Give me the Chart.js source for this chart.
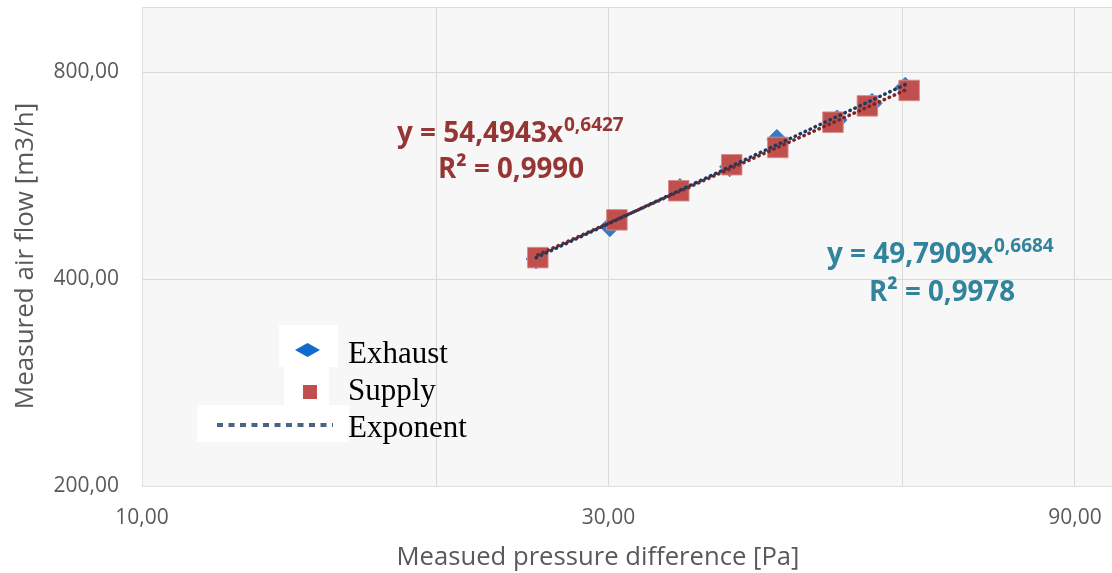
<!DOCTYPE html>
<html>
<head>
<meta charset="utf-8">
<title>Air flow vs pressure difference</title>
<script src="https://cdn.jsdelivr.net/npm/chart.js@4.4.1/dist/chart.umd.min.js"></script>
<style>
  html, body { margin: 0; padding: 0; background: #fff; }
  #wrap { position: relative; width: 1112px; height: 573px; }
</style>
</head>
<body>
<div id="wrap"><canvas id="AirFlowChart" width="1112" height="573"></canvas></div>
<script>
// measured points
const exhaustPressure = [25.3, 30.1, 35.5, 39.9, 44.6, 51.4, 55.8, 60.35];
const exhaustFlow = [428, 477, 542, 583, 639, 682, 721, 761];
const supplyPressure = [25.4, 30.6, 35.4, 40.1, 44.7, 50.9, 55.2, 60.9];
const supplyFlow = [430, 488, 538, 587, 622, 677, 715, 753];

// trend line end points (straight on log-log axes)
const exhaustTrendPressure = [25.3, 60.35];
const exhaustTrendFlow = [430, 768];
const supplyTrendPressure = [25.4, 60.9];
const supplyTrendFlow = [434, 758];

// axes
const xGridTicks = [10, 20, 30, 60, 90];
const xLabelTicks = [10, 30, 90];
const yTicks = [200, 400, 800];
const xMin = 10, xMax = 98.2, yMin = 200, yMax = 996;

const legendLabels = ["Exhaust", "Supply", "Exponent"];
const supplyEq = ["y = 54,4943x", "0,6427", "R² = 0,9990"];
const exhaustEq = ["y = 49,7909x", "0,6684", "R² = 0,9978"];
const xTitle = "Measued pressure difference [Pa]";
const yTitle = "Measured air flow [m3/h]";

const BLUE = "#3679c6";
const RED = "#c0504d";
const EQ_RED = "#963634";
const EQ_TEAL = "#31849b";
const GREY_TEXT = "#595959";

const toPoints = (xs, ys) => xs.map((x, i) => ({ x: x, y: ys[i] }));
const fmt = (v) => v.toFixed(2).replace(".", ",");

// no extra room for edge labels, the plot fills the frame
const noPadding = (scale) => {
  scale.paddingTop = 0;
  scale.paddingBottom = 0;
  scale.paddingLeft = 0;
  scale.paddingRight = 0;
};

// background, border, titles, equations and legend
const overlayPlugin = {
  id: "overlay",
  beforeDraw(chart) {
    const { ctx, chartArea: a } = chart;
    ctx.save();
    ctx.fillStyle = "#f7f7f7";
    ctx.fillRect(a.left, a.top, a.right - a.left, a.bottom - a.top);
    ctx.restore();
  },
  beforeDatasetsDraw(chart) {
    const { ctx, chartArea: a } = chart;
    ctx.save();
    ctx.strokeStyle = "#dedede";
    ctx.lineWidth = 1;
    ctx.strokeRect(a.left + 0.5, a.top + 0.5, a.right - a.left, a.bottom - a.top);
    ctx.restore();
  },
  afterDraw(chart) {
    const ctx = chart.ctx;
    ctx.save();

    // axis titles
    ctx.fillStyle = GREY_TEXT;
    ctx.font = "26px 'Open Sans'";
    ctx.textAlign = "center";
    ctx.textBaseline = "alphabetic";
    ctx.fillText(xTitle, 598, 565, 403);
    ctx.save();
    ctx.translate(33, 256);
    ctx.rotate(-Math.PI / 2);
    ctx.fillText(yTitle, 0, 0, 318);
    ctx.restore();

    // trend equations
    const drawEq = (eq, color, x, base, x2, base2) => {
      ctx.fillStyle = color;
      ctx.textAlign = "left";
      ctx.font = "bold 29px 'Open Sans'";
      ctx.fillText(eq[0], x, base, 166);
      const w = Math.min(166, ctx.measureText(eq[0]).width);
      ctx.font = "bold 19px 'Open Sans'";
      ctx.fillText(eq[1], x + w + 1, base - 11, 63);
      ctx.font = "bold 29px 'Open Sans'";
      ctx.fillText(eq[2], x2, base2, 146);
    };
    drawEq(supplyEq, EQ_RED, 397, 142, 438, 178);
    drawEq(exhaustEq, EQ_TEAL, 827, 263, 869, 301);

    // legend
    ctx.fillStyle = "#ffffff";
    ctx.fillRect(279, 325, 59, 42);
    ctx.fillRect(284, 367, 45, 38);
    ctx.fillRect(197, 405, 152, 37);

    ctx.fillStyle = "#0f6ccc";
    ctx.beginPath();
    ctx.moveTo(295, 350);
    ctx.lineTo(307.5, 343);
    ctx.lineTo(320, 350);
    ctx.lineTo(307.5, 357);
    ctx.closePath();
    ctx.fill();

    ctx.fillStyle = RED;
    ctx.fillRect(303, 385, 14, 14);

    ctx.strokeStyle = "#4a6488";
    ctx.lineWidth = 4;
    ctx.setLineDash([6, 5.5]);
    ctx.beginPath();
    ctx.moveTo(217, 425);
    ctx.lineTo(333, 425);
    ctx.stroke();
    ctx.setLineDash([]);

    ctx.fillStyle = "#000000";
    ctx.font = "31px 'Liberation Serif'";
    ctx.textAlign = "left";
    ctx.fillText(legendLabels[0], 348, 363);
    ctx.fillText(legendLabels[1], 348, 400);
    ctx.fillText(legendLabels[2], 348, 437);

    ctx.restore();
  }
};

const ctx = document.getElementById("AirFlowChart").getContext("2d");
new Chart(ctx, {
  type: "scatter",
  data: {
    datasets: [
      {
        label: "Exponent (Exhaust)",
        type: "line",
        data: toPoints(exhaustTrendPressure, exhaustTrendFlow),
        borderColor: "#1f3a60",
        borderWidth: 3.5,
        borderDash: [0.5, 5],
        borderCapStyle: "round",
        pointRadius: 0,
        fill: false,
        order: 0
      },
      {
        label: "Exponent (Supply)",
        type: "line",
        data: toPoints(supplyTrendPressure, supplyTrendFlow),
        borderColor: "#7a2626",
        borderWidth: 3.5,
        borderDash: [0.5, 5],
        borderCapStyle: "round",
        pointRadius: 0,
        fill: false,
        order: 1
      },
      {
        label: legendLabels[1],
        data: toPoints(supplyPressure, supplyFlow),
        pointStyle: "rect",
        pointRadius: 14.5,
        backgroundColor: RED,
        borderColor: "rgba(214,140,138,0.9)",
        borderWidth: 1,
        order: 2
      },
      {
        label: legendLabels[0],
        data: toPoints(exhaustPressure, exhaustFlow),
        pointStyle: "rectRot",
        pointRadius: 10,
        backgroundColor: BLUE,
        borderColor: BLUE,
        borderWidth: 1,
        order: 3
      }
    ]
  },
  options: {
    responsive: false,
    devicePixelRatio: 1,
    animation: false,
    // autoPadding would reserve room for the big markers, the frame must stay put
    layout: { autoPadding: false, padding: { top: 7, right: 0, left: 0, bottom: 0 } },
    plugins: {
      legend: { display: false },
      tooltip: { enabled: false }
    },
    scales: {
      x: {
        type: "logarithmic",
        min: xMin,
        max: xMax,
        afterBuildTicks: (scale) => {
          scale.ticks = xGridTicks.map((v) => ({ value: v }));
        },
        afterFit: (scale) => { scale.height = 87; noPadding(scale); },
        grid: { color: "#d9d9d9", lineWidth: 1, drawTicks: false },
        border: { display: false },
        ticks: {
          autoSkip: false,
          maxRotation: 0,
          padding: 19,
          color: GREY_TEXT,
          font: { family: "'Open Sans'", size: 21 },
          callback: (v) => (xLabelTicks.includes(v) ? fmt(v) : "")
        }
      },
      y: {
        type: "logarithmic",
        min: yMin,
        max: yMax,
        afterBuildTicks: (scale) => {
          scale.ticks = yTicks.map((v) => ({ value: v }));
        },
        afterFit: (scale) => { scale.width = 142; noPadding(scale); },
        grid: { color: "#d9d9d9", lineWidth: 1, drawTicks: false },
        border: { display: false },
        ticks: {
          autoSkip: false,
          padding: 23,
          color: GREY_TEXT,
          font: { family: "'Open Sans'", size: 21 },
          callback: (v) => fmt(v)
        }
      }
    }
  },
  plugins: [overlayPlugin]
});
</script>
</body>
</html>
